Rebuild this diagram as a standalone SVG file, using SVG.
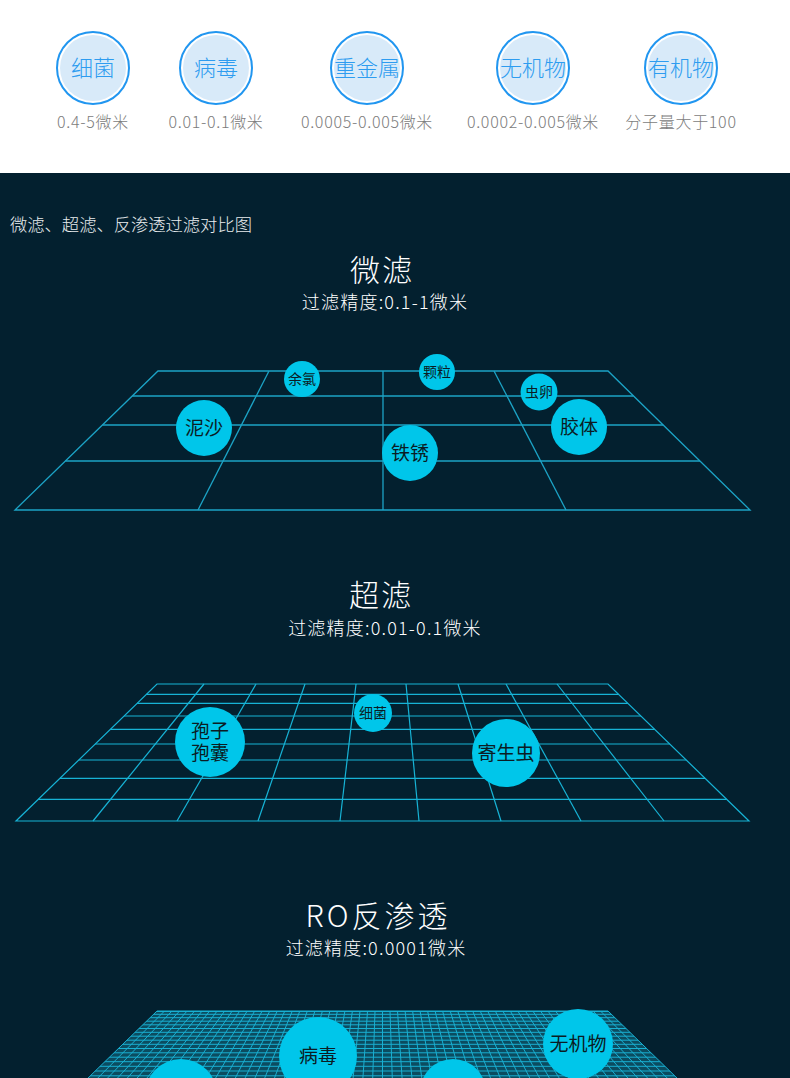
<svg xmlns="http://www.w3.org/2000/svg" width="790" height="1078" viewBox="0 0 790 1078">
<defs>
<style>
.cn{font-family:"Noto Sans CJK SC","Noto Sans",sans-serif}
.ring{fill:#ffffff;stroke:#2196f0;stroke-width:2}
.inner{fill:#d8eaf9}
.ct{font-size:22px;fill:#2d9cf0;text-anchor:middle;font-weight:300}
.lab{font-size:16px;fill:#7c7c7c;text-anchor:middle;font-weight:300;letter-spacing:0.7px}
.h1{font-size:30px;fill:#ffffff;text-anchor:middle;font-weight:300;letter-spacing:2px}
.h2{font-size:18px;fill:#ffffff;text-anchor:middle;font-weight:300;letter-spacing:1.2px}
.g1{stroke:#1ca3c6;stroke-width:1.3;fill:none}
.g2{stroke:#17b3d6;stroke-width:1.2;fill:none}
.g3{stroke:#19b0d2;stroke-width:1;fill:none}
.b{fill:#00c6ea}
.bs{font-size:14px;fill:#0b1c24;text-anchor:middle}
.bl{font-size:19px;fill:#0b1c24;text-anchor:middle}
</style>
<clipPath id="clip3"><polygon points="157,1011 608,1011 749,1148 16,1148"/></clipPath>
</defs>
<rect x="0" y="0" width="790" height="173" fill="#ffffff"/>
<rect x="0" y="173" width="790" height="905" fill="#03202f"/>

<g id="legend" class="cn">
<g id="leg-bacteria"><circle class="ring" cx="93" cy="68" r="36"/><circle class="inner" cx="93" cy="68" r="33"/><text class="ct" x="93" y="76">细菌</text><text class="lab" x="93" y="128">0.4-5微米</text></g>
<g id="leg-virus"><circle class="ring" cx="216" cy="68" r="36"/><circle class="inner" cx="216" cy="68" r="33"/><text class="ct" x="216" y="76">病毒</text><text class="lab" x="216" y="128">0.01-0.1微米</text></g>
<g id="leg-metal"><circle class="ring" cx="367" cy="68" r="36"/><circle class="inner" cx="367" cy="68" r="33"/><text class="ct" x="367" y="76">重金属</text><text class="lab" x="367" y="128">0.0005-0.005微米</text></g>
<g id="leg-inorganic"><circle class="ring" cx="533" cy="68" r="36"/><circle class="inner" cx="533" cy="68" r="33"/><text class="ct" x="533" y="76">无机物</text><text class="lab" x="533" y="128">0.0002-0.005微米</text></g>
<g id="leg-organic"><circle class="ring" cx="681" cy="68" r="36"/><circle class="inner" cx="681" cy="68" r="33"/><text class="ct" x="681" y="76">有机物</text><text class="lab" x="681" y="128">分子量大于100</text></g>
</g>

<g id="titles" class="cn">
<text x="10" y="231" font-size="17.3" fill="#e8ecee" font-weight="300">微滤、超滤、反渗透过滤对比图</text>
<text class="h1" x="382" y="281">微滤</text>
<text class="h2" x="385" y="309">过滤精度:0.1-1微米</text>
<text class="h1" x="381" y="606">超滤</text>
<text class="h2" x="385" y="635">过滤精度:0.01-0.1微米</text>
<text class="h1" x="378" y="927" style="letter-spacing:3px">RO反渗透</text>
<text class="h2" x="376" y="955">过滤精度:0.0001微米</text>
</g>

<g id="grid1" class="g1">
<polygon points="158,371 608,371 750,510 15,510"/>
<line x1="132.3" y1="396" x2="633.5" y2="396"/>
<line x1="102.4" y1="425" x2="663.2" y2="425"/>
<line x1="65.4" y1="461" x2="699.9" y2="461"/>
<line x1="269" y1="371" x2="198" y2="510"/>
<line x1="383" y1="371" x2="383" y2="510"/>
<line x1="494" y1="371" x2="566" y2="510"/>
</g>

<g id="grid2">
<polygon points="157,684 608,684 749,821 16,821" fill="#053a4b" class="g2"/>
<g class="g2">
<line x1="146.4" y1="694.3" x2="618.6" y2="694.3"/>
<line x1="137.1" y1="703.3" x2="627.9" y2="703.3"/>
<line x1="124.1" y1="716" x2="640.9" y2="716"/>
<line x1="110.4" y1="729.3" x2="654.6" y2="729.3"/>
<line x1="95.2" y1="744" x2="669.8" y2="744"/>
<line x1="78.8" y1="760" x2="686.2" y2="760"/>
<line x1="59.9" y1="778.3" x2="705.1" y2="778.3"/>
<line x1="38.3" y1="799.3" x2="726.7" y2="799.3"/>
<line x1="204" y1="684" x2="93" y2="821"/>
<line x1="256" y1="684" x2="177" y2="821"/>
<line x1="305" y1="684" x2="258" y2="821"/>
<line x1="356" y1="684" x2="340" y2="821"/>
<line x1="406" y1="684" x2="419" y2="821"/>
<line x1="458" y1="684" x2="501" y2="821"/>
<line x1="506" y1="684" x2="581" y2="821"/>
<line x1="557" y1="684" x2="664" y2="821"/>
</g>
</g>

<g id="grid3">
<polygon points="157,1011 608,1011 749,1148 16,1148" fill="#0b4c60"/>
<g class="g3" clip-path="url(#clip3)">
<line x1="0" y1="1011.5" x2="790" y2="1011.5"/>
<line x1="0" y1="1014.3" x2="790" y2="1014.3"/>
<line x1="0" y1="1017.7" x2="790" y2="1017.7"/>
<line x1="0" y1="1021.2" x2="790" y2="1021.2"/>
<line x1="0" y1="1024.8" x2="790" y2="1024.8"/>
<line x1="0" y1="1028.5" x2="790" y2="1028.5"/>
<line x1="0" y1="1032.3" x2="790" y2="1032.3"/>
<line x1="0" y1="1036.2" x2="790" y2="1036.2"/>
<line x1="0" y1="1040.2" x2="790" y2="1040.2"/>
<line x1="0" y1="1044.3" x2="790" y2="1044.3"/>
<line x1="0" y1="1048.5" x2="790" y2="1048.5"/>
<line x1="0" y1="1052.8" x2="790" y2="1052.8"/>
<line x1="0" y1="1057.2" x2="790" y2="1057.2"/>
<line x1="0" y1="1061.7" x2="790" y2="1061.7"/>
<line x1="0" y1="1066.3" x2="790" y2="1066.3"/>
<line x1="0" y1="1071" x2="790" y2="1071"/>
<line x1="0" y1="1075.8" x2="790" y2="1075.8"/>
<line x1="164.5" y1="1011" x2="28.2" y2="1148"/>
<line x1="172.0" y1="1011" x2="40.4" y2="1148"/>
<line x1="179.6" y1="1011" x2="52.7" y2="1148"/>
<line x1="187.1" y1="1011" x2="64.9" y2="1148"/>
<line x1="194.6" y1="1011" x2="77.1" y2="1148"/>
<line x1="202.1" y1="1011" x2="89.3" y2="1148"/>
<line x1="209.6" y1="1011" x2="101.5" y2="1148"/>
<line x1="217.1" y1="1011" x2="113.7" y2="1148"/>
<line x1="224.7" y1="1011" x2="126.0" y2="1148"/>
<line x1="232.2" y1="1011" x2="138.2" y2="1148"/>
<line x1="239.7" y1="1011" x2="150.4" y2="1148"/>
<line x1="247.2" y1="1011" x2="162.6" y2="1148"/>
<line x1="254.7" y1="1011" x2="174.8" y2="1148"/>
<line x1="262.2" y1="1011" x2="187.0" y2="1148"/>
<line x1="269.8" y1="1011" x2="199.3" y2="1148"/>
<line x1="277.3" y1="1011" x2="211.5" y2="1148"/>
<line x1="284.8" y1="1011" x2="223.7" y2="1148"/>
<line x1="292.3" y1="1011" x2="235.9" y2="1148"/>
<line x1="299.8" y1="1011" x2="248.1" y2="1148"/>
<line x1="307.3" y1="1011" x2="260.3" y2="1148"/>
<line x1="314.9" y1="1011" x2="272.6" y2="1148"/>
<line x1="322.4" y1="1011" x2="284.8" y2="1148"/>
<line x1="329.9" y1="1011" x2="297.0" y2="1148"/>
<line x1="337.4" y1="1011" x2="309.2" y2="1148"/>
<line x1="344.9" y1="1011" x2="321.4" y2="1148"/>
<line x1="352.4" y1="1011" x2="333.6" y2="1148"/>
<line x1="360.0" y1="1011" x2="345.9" y2="1148"/>
<line x1="367.5" y1="1011" x2="358.1" y2="1148"/>
<line x1="375.0" y1="1011" x2="370.3" y2="1148"/>
<line x1="382.5" y1="1011" x2="382.5" y2="1148"/>
<line x1="390.0" y1="1011" x2="394.7" y2="1148"/>
<line x1="397.5" y1="1011" x2="406.9" y2="1148"/>
<line x1="405.1" y1="1011" x2="419.2" y2="1148"/>
<line x1="412.6" y1="1011" x2="431.4" y2="1148"/>
<line x1="420.1" y1="1011" x2="443.6" y2="1148"/>
<line x1="427.6" y1="1011" x2="455.8" y2="1148"/>
<line x1="435.1" y1="1011" x2="468.0" y2="1148"/>
<line x1="442.6" y1="1011" x2="480.2" y2="1148"/>
<line x1="450.2" y1="1011" x2="492.5" y2="1148"/>
<line x1="457.7" y1="1011" x2="504.7" y2="1148"/>
<line x1="465.2" y1="1011" x2="516.9" y2="1148"/>
<line x1="472.7" y1="1011" x2="529.1" y2="1148"/>
<line x1="480.2" y1="1011" x2="541.3" y2="1148"/>
<line x1="487.7" y1="1011" x2="553.5" y2="1148"/>
<line x1="495.3" y1="1011" x2="565.8" y2="1148"/>
<line x1="502.8" y1="1011" x2="578.0" y2="1148"/>
<line x1="510.3" y1="1011" x2="590.2" y2="1148"/>
<line x1="517.8" y1="1011" x2="602.4" y2="1148"/>
<line x1="525.3" y1="1011" x2="614.6" y2="1148"/>
<line x1="532.8" y1="1011" x2="626.8" y2="1148"/>
<line x1="540.4" y1="1011" x2="639.1" y2="1148"/>
<line x1="547.9" y1="1011" x2="651.3" y2="1148"/>
<line x1="555.4" y1="1011" x2="663.5" y2="1148"/>
<line x1="562.9" y1="1011" x2="675.7" y2="1148"/>
<line x1="570.4" y1="1011" x2="687.9" y2="1148"/>
<line x1="577.9" y1="1011" x2="700.1" y2="1148"/>
<line x1="585.5" y1="1011" x2="712.4" y2="1148"/>
<line x1="593.0" y1="1011" x2="724.6" y2="1148"/>
<line x1="600.5" y1="1011" x2="736.8" y2="1148"/>
</g>
<polygon points="157,1011 608,1011 749,1148 16,1148" class="g3"/>
</g>

<g id="particles1" class="cn">
<g id="p-chlorine"><circle class="b" cx="302" cy="379" r="18"/><text class="bs" x="302" y="384">余氯</text></g>
<g id="p-sand"><circle class="b" cx="204" cy="428" r="28"/><text class="bl" x="204" y="435">泥沙</text></g>
<g id="p-rust"><circle class="b" cx="410" cy="453" r="28"/><text class="bl" x="410" y="460">铁锈</text></g>
<g id="p-grain"><circle class="b" cx="437" cy="372" r="18"/><text class="bs" x="437" y="377">颗粒</text></g>
<g id="p-egg"><circle class="b" cx="539" cy="392" r="18.5"/><text class="bs" x="539" y="397">虫卵</text></g>
<g id="p-colloid"><circle class="b" cx="579" cy="427" r="28"/><text class="bl" x="579" y="434">胶体</text></g>
</g>

<g id="particles2" class="cn">
<g id="p-spore"><circle class="b" cx="210" cy="742" r="35"/><text class="bl" font-size="19"><tspan x="210" y="738">孢子</tspan><tspan x="210" y="760">孢囊</tspan></text></g>
<g id="p-bacteria"><circle class="b" cx="373" cy="713" r="19"/><text class="bs" x="373" y="718">细菌</text></g>
<g id="p-parasite"><circle class="b" cx="506" cy="753" r="34"/><text class="bl" x="506" y="760">寄生虫</text></g>
</g>

<g id="particles3" class="cn">
<g id="p-virus"><circle class="b" cx="318" cy="1056" r="39"/><text class="bl" x="318" y="1063" font-size="20">病毒</text></g>
<g id="p-inorg"><circle class="b" cx="578" cy="1044" r="35"/><text class="bl" x="578" y="1051" font-size="20">无机物</text></g>
<g id="p-a"><circle class="b" cx="181" cy="1095" r="36"/></g>
<g id="p-b"><circle class="b" cx="453" cy="1092" r="33"/></g>
</g>
</svg>
